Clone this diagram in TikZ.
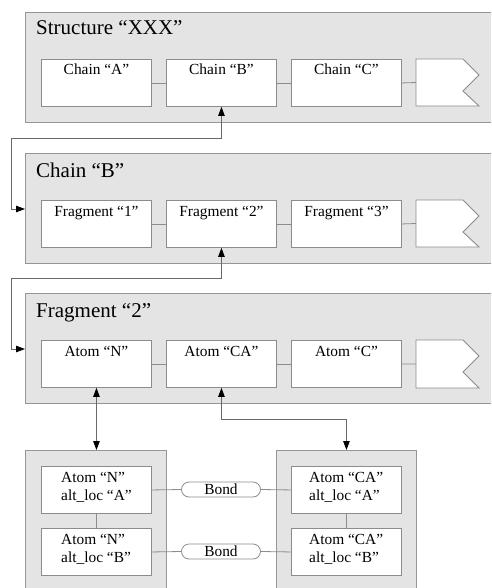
\documentclass[tikz,border=0pt]{standalone}
\usepackage{fontspec}
\setmainfont{Liberation Serif}
\usetikzlibrary{arrows.meta,calc,shapes.misc}

\definecolor{panelfill}{RGB}{228,228,228}
\definecolor{panelline}{RGB}{150,150,150}
\definecolor{boxline}{RGB}{140,140,140}
\definecolor{wire}{RGB}{105,105,105}

\tikzset{
  panel/.style={draw=panelline, fill=panelfill, line width=0.9pt, anchor=north west, inner sep=0pt},
  itembox/.style={draw=boxline, fill=white, line width=0.9pt, anchor=north west, inner sep=0pt,
                  minimum width=110pt, minimum height=47pt},
  flagbox/.style={draw=boxline, fill=white, line width=0.9pt},
  itemlabel/.style={anchor=base, inner sep=0pt, font=\fontsize{15.4}{18}\selectfont},
  altlabel/.style={anchor=north west, inner sep=0pt, align=left, font=\fontsize{15.4}{18}\selectfont},
  title/.style={anchor=base west, inner sep=0pt, font=\fontsize{21}{24}\selectfont},
  link/.style={draw=boxline, line width=0.8pt},
  conn/.style={draw=wire, line width=0.8pt,
               {Triangle[width=6.5pt,length=9pt,color=black]}-{Triangle[width=6.5pt,length=9pt,color=black]}},
  bond/.style={draw=boxline, fill=white, line width=0.8pt, rounded rectangle,
               minimum width=79pt, minimum height=15pt, inner sep=0pt,
               font=\fontsize{15.4}{18}\selectfont},
}

\begin{document}
\begin{tikzpicture}[x=1pt,y=1pt]
\useasboundingbox (0,0) rectangle (491,-588);
\clip (0,0) rectangle (491,-588);

% ---------- Structure panel ----------
\node[panel, minimum width=480pt, minimum height=110pt] (pS) at (25,-12) {};
\node[title] (tS) at (36,-35) {Structure “XXX”};
\node[itembox] (cA) at (41,-59) {};
\node[itembox] (cB) at (166,-59) {};
\node[itembox] (cC) at (291,-59) {};
\draw[flagbox] (416,-59) -- (463,-59) -- (479,-75) -- (463,-91) -- (479,-106) -- (416,-106) -- cycle;
\coordinate (cMore) at (416,-82.5);
\node[itemlabel] (lcA) at ($(cA.north)+(0,-16)$) {Chain “A”};
\node[itemlabel] (lcB) at ($(cB.north)+(0,-16)$) {Chain “B”};
\node[itemlabel] (lcC) at ($(cC.north)+(0,-16)$) {Chain “C”};
\draw[link] (cA.east) -- (cB.west);
\draw[link] (cB.east) -- (cC.west);
\draw[link] (cC.east) -- (cMore);

% ---------- Chain panel ----------
\node[panel, minimum width=480pt, minimum height=110pt] (pC) at (25,-153) {};
\node[title] (tC) at (36,-177) {Chain “B”};
\node[itembox] (f1) at (41,-200) {};
\node[itembox] (f2) at (166,-200) {};
\node[itembox] (f3) at (291,-200) {};
\draw[flagbox] (416,-200) -- (463,-200) -- (479,-216) -- (463,-232) -- (479,-247) -- (416,-247) -- cycle;
\coordinate (fMore) at (416,-223.5);
\node[itemlabel] (lf1) at ($(f1.north)+(0,-16)$) {Fragment “1”};
\node[itemlabel] (lf2) at ($(f2.north)+(0,-16)$) {Fragment “2”};
\node[itemlabel] (lf3) at ($(f3.north)+(0,-16)$) {Fragment “3”};
\draw[link] (f1.east) -- (f2.west);
\draw[link] (f2.east) -- (f3.west);
\draw[link] (f3.east) -- (fMore);

% ---------- Fragment panel ----------
\node[panel, minimum width=480pt, minimum height=110pt] (pF) at (25,-293) {};
\node[title] (tF) at (36,-317) {Fragment “2”};
\node[itembox] (aN) at (41,-340) {};
\node[itembox] (aCA) at (166,-340) {};
\node[itembox] (aC) at (291,-340) {};
\draw[flagbox] (416,-340) -- (463,-340) -- (479,-356) -- (463,-372) -- (479,-388) -- (416,-388) -- cycle;
\coordinate (aMore) at (416,-364);
\node[itemlabel] (laN) at ($(aN.north)+(0,-16)$) {Atom “N”};
\node[itemlabel] (laCA) at ($(aCA.north)+(0,-16)$) {Atom “CA”};
\node[itemlabel] (laC) at ($(aC.north)+(0,-16)$) {Atom “C”};
\draw[link] (aN.east) -- (aCA.west);
\draw[link] (aCA.east) -- (aC.west);
\draw[link] (aC.east) -- (aMore);

% ---------- alternate locations ----------
\node[panel, minimum width=141pt, minimum height=160pt] (pN) at (25,-450) {};
\node[panel, minimum width=140pt, minimum height=160pt] (pCA) at (276,-450) {};
\node[itembox] (nA) at (41,-466) {};
\node[itembox] (nB) at (41,-528) {};
\node[itembox] (caA) at (291,-466) {};
\node[itembox] (caB) at (291,-528) {};
\node[altlabel] (lnA) at (61,-472) {Atom “N”\\alt\_loc “A”};
\node[altlabel] (lnB) at (61,-534) {Atom “N”\\alt\_loc “B”};
\node[altlabel] (lcaA) at (309,-472) {Atom “CA”\\alt\_loc “A”};
\node[altlabel] (lcaB) at (309,-534) {Atom “CA”\\alt\_loc “B”};
\draw[link] (nA.south) -- (nB.north);
\draw[link] (caA.south) -- (caB.north);
\node[bond] (b1) at (221,-489.5) {Bond};
\node[bond] (b2) at (221,-551.5) {Bond};
\draw[link] (nA.east) -- (b1.west);
\draw[link] (b1.east) -- (caA.west);
\draw[link] (nB.east) -- (b2.west);
\draw[link] (b2.east) -- (caB.west);

% ---------- references between levels ----------
\coordinate (k1) at (11,-138);
\coordinate (k2) at (25,-209);
\coordinate (k3) at (11,-278);
\coordinate (k4) at (25,-349);
\coordinate (k5) at ($(pCA.north)+(0,31)$);
\draw[conn] (cB.south) |- (k1) |- (k2);
\draw[conn] (f2.south) |- (k3) |- (k4);
\draw[conn] (aN.south) -- (aN.south |- pN.north);
\draw[conn] (aCA.south) |- (k5) -- (pCA.north);
\end{tikzpicture}
\end{document}
